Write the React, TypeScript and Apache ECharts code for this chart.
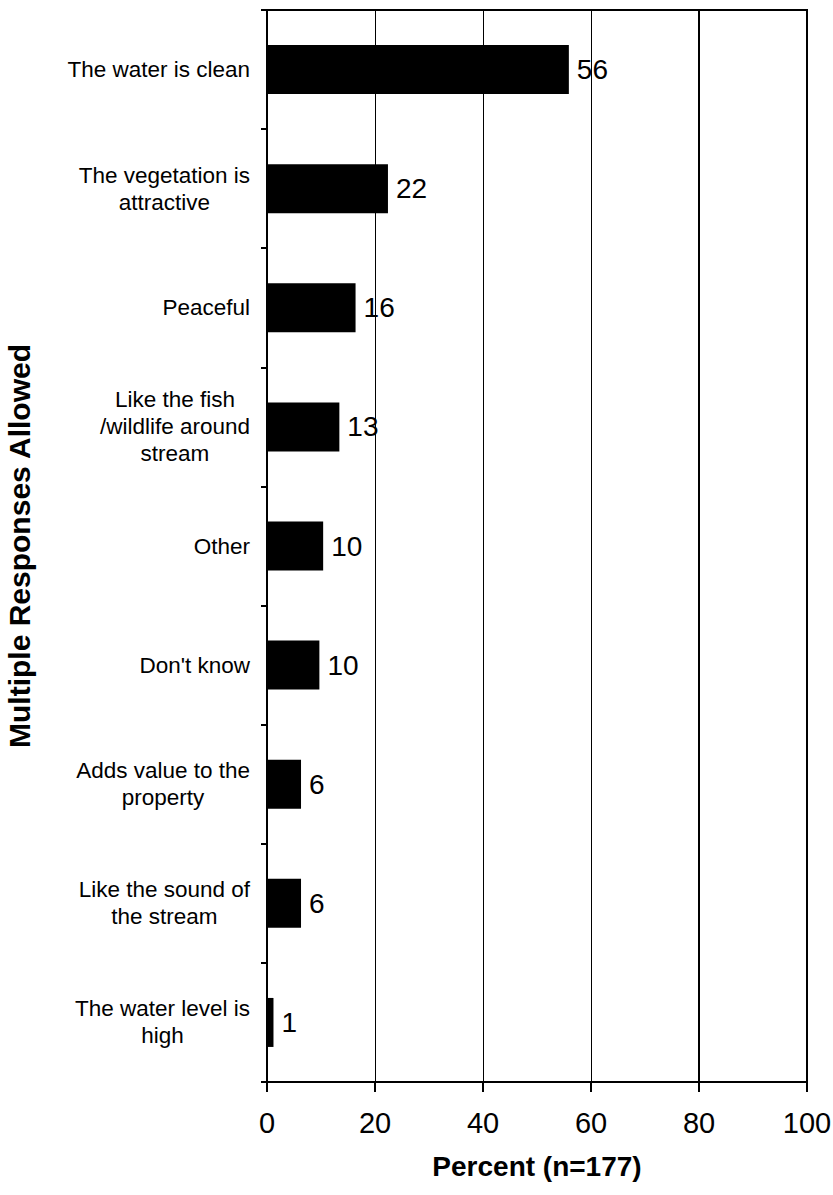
import React, { useEffect, useRef } from "react";
import * as echarts from "echarts";

const categories: string[] = [
  "The water is clean",
  "The vegetation is\nattractive",
  "Peaceful",
  "Like the fish\n/wildlife around\nstream",
  "Other",
  "Don't know",
  "Adds value to the\nproperty",
  "Like the sound of\nthe stream",
  "The water level is\nhigh",
];

const values: number[] = [55.9, 22.4, 16.4, 13.4, 10.4, 9.7, 6.3, 6.3, 1.2];

const xTicks: number[] = [0, 20, 40, 60, 80, 100];

const FONT = "'Liberation Sans', Arial, Helvetica, sans-serif";

export default function App() {
  const ref = useRef<HTMLDivElement | null>(null);

  useEffect(() => {
    document.body.style.margin = "0";
    if (!ref.current) return;
    const chart = echarts.init(ref.current, undefined, { renderer: "svg" });
    chart.setOption({
      animation: false,
      backgroundColor: "#ffffff",
      textStyle: { fontFamily: FONT, color: "#000" },
      grid: {
        left: 267,
        right: 26,
        top: 10,
        bottom: 113,
        show: true,
        borderColor: "#000",
        borderWidth: 2,
        containLabel: false,
        outerBoundsMode: "none",
      },
      xAxis: {
        type: "value",
        min: xTicks[0],
        max: xTicks[xTicks.length - 1],
        interval: 20,
        name: "Percent (n=177)",
        nameLocation: "middle",
        nameGap: 70,
        nameTextStyle: {
          fontFamily: FONT,
          fontSize: 28,
          fontWeight: "bold",
          color: "#000",
        },
        axisLine: { show: true, lineStyle: { color: "#000", width: 2 } },
        axisTick: { show: true, length: 10, inside: false, lineStyle: { color: "#000", width: 2 } },
        axisLabel: {
          fontFamily: FONT,
          fontSize: 29,
          color: "#000",
          margin: 26,
        },
        splitLine: { show: true, lineStyle: { color: "#000", width: 1 } },
      },
      yAxis: {
        type: "category",
        inverse: true,
        data: categories,
        name: "Multiple Responses Allowed",
        nameLocation: "middle",
        nameGap: 233,
        nameTextStyle: {
          fontFamily: FONT,
          fontSize: 30,
          fontWeight: "bold",
          color: "#000",
        },
        axisLine: { show: true, lineStyle: { color: "#000", width: 2 } },
        axisTick: { show: true, length: 6, inside: false, lineStyle: { color: "#000", width: 2 } },
        axisLabel: {
          margin: 17,
          align: "right",
          formatter: (v: string) => `{c|${v}}`,
          rich: {
            c: {
              align: "center",
              fontFamily: FONT,
              fontSize: 22.5,
              lineHeight: 27,
              color: "#000",
            },
          },
        },
        splitLine: { show: false },
      },
      series: [
        {
          type: "bar",
          data: values,
          barWidth: 49,
          itemStyle: { color: "#000" },
          label: {
            show: true,
            position: "right",
            distance: 8,
            fontFamily: FONT,
            fontSize: 28,
            color: "#000",
            formatter: (p: any) => String(Math.round(p.value)),
          },
          markLine: {
            silent: true,
            symbol: "none",
            label: { show: false },
            lineStyle: { color: "#000", width: 2, type: "solid" },
            data: [{ xAxis: 80 }],
          },
        },
      ],
    });
    return () => chart.dispose();
  }, []);

  return (
    <div
      ref={ref}
      style={{ position: "absolute", left: 0, top: 0, width: 833, height: 1195 }}
    />
  );
}
